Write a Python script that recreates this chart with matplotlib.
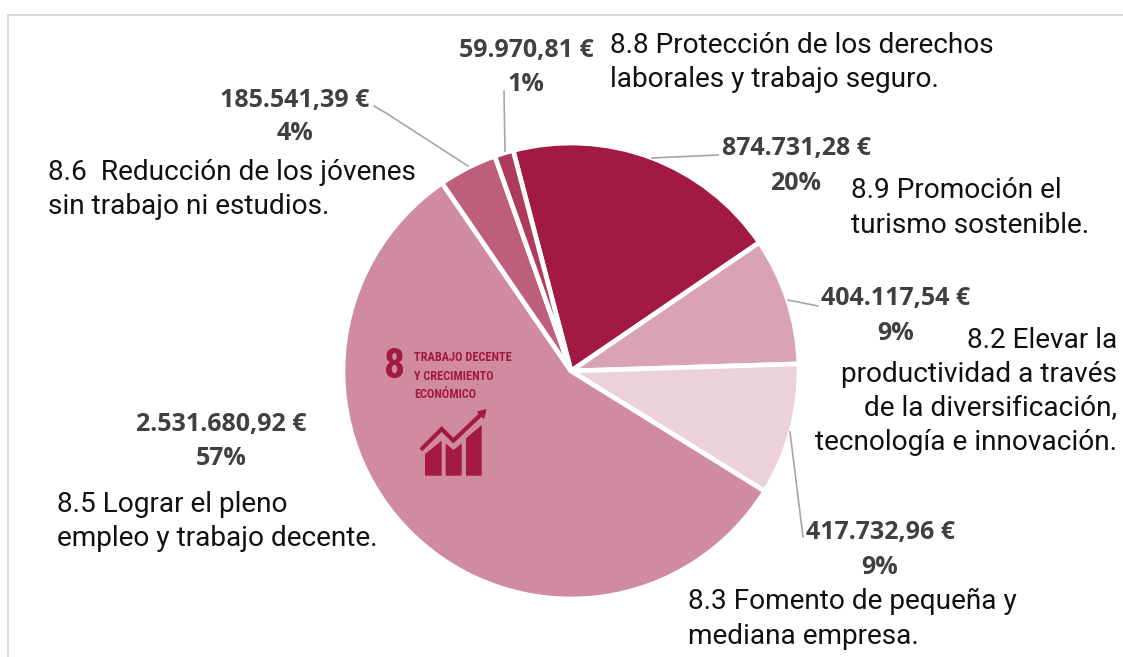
import matplotlib
matplotlib.use("Agg")
import matplotlib.pyplot as plt
from matplotlib.patches import Polygon
from matplotlib import font_manager as fm

W, H = 1123, 657
categories = ["8.9", "8.2", "8.3", "8.5", "8.6", "8.8"]
values = [874731.28, 404117.54, 417732.96, 2531680.92, 185541.39, 59970.81]
colors = ["#A21942", "#D9A3B3", "#ECD1D9", "#D08BA0", "#BD5E7B", "#AE3A5E"]
value_labels = ["874.731,28 €\n20%", "404.117,54 €\n9%", "417.732,96 €\n9%",
                "2.531.680,92 €\n57%", "185.541,39 €\n4%", "59.970,81 €\n1%"]
value_pos = [(796, 164), (896, 314), (880, 548), (221, 439.5), (295, 115), (526, 65.5)]
names = ["8.9 Promoción el\nturismo sostenible.",
         "8.2 Elevar la\nproductividad a través\nde la diversificación,\ntecnología e innovación.",
         "8.3 Fomento de pequeña y\nmediana empresa.",
         "8.5 Lograr el pleno\nempleo y trabajo decente.",
         "8.6  Reducción de los jóvenes\nsin trabajo ni estudios.",
         "8.8 Protección de los derechos\nlaborales y trabajo seguro."]
name_pos = [(851, 206, "left"), (1117, 389.5, "right"), (688, 617, "left"),
            (57, 519.5, "left"), (48, 187.5, "left"), (610, 60.5, "left")]
leaders = [[(652, 158), (718, 155)], [(788, 300), (818, 306)], [(790, 432), (803, 537)],
           [], [(468, 166), (386, 113), (374, 106)], [(505, 151), (504, 91)]]

installed = {f.name for f in fm.fontManager.ttflist}
narrow = next((n for n in ("Roboto Condensed", "Liberation Sans Narrow", "Open Sans Condensed")
               if n in installed), "Roboto")
small_size = 8.8 if narrow != "Roboto" else 7.5

fig = plt.figure(figsize=(W / 100, H / 100), dpi=100, facecolor="white")
cx, cy, r = 571, 371, 228
axp = fig.add_axes([(cx - r) / W, 1 - (cy + r) / H, 2 * r / W, 2 * r / H])
axp.pie(values, colors=colors, startangle=104.7, counterclock=False, radius=1,
        wedgeprops=dict(edgecolor="white", linewidth=3.4))
axp.set_xlim(-1, 1); axp.set_ylim(-1, 1); axp.axis("off")

ax = fig.add_axes([0, 0, 1, 1], facecolor="none")
ax.set_xlim(0, W); ax.set_ylim(H, 0); ax.axis("off")
ax.plot([8, 8, W], [H, 15, 15], color="#D9D9D9", lw=1.4, solid_joinstyle="miter")

for pts in leaders:
    if pts:
        ax.plot(*zip(*pts), color="#A6A6A6", lw=1.2)


def block(x, yc, text, pitch, drop, **kw):
    lines = text.split("\n")
    for i, line in enumerate(lines):
        ax.text(x, yc + (i - (len(lines) - 1) / 2) * pitch + drop, line, va="baseline", **kw)


for lab, (x, y) in zip(value_labels, value_pos):
    block(x, y, lab, 34, 8.5, ha="center", fontsize=18, fontweight="bold",
          family="Open Sans", color="#404040")
for lab, (x, y, ha) in zip(names, name_pos):
    block(x, y, lab, 34.3, 9.5, ha=ha, fontsize=20.2, family="Roboto", color="#111111")

# SDG 8 emblem
C = "#A21942"
ax.text(394.5, 366.5, "8", ha="center", va="center", fontsize=30, fontweight="bold", family=narrow, color=C)
for y, t in zip((357.5, 376.5, 395), ("TRABAJO DECENTE", "Y CRECIMIENTO", "ECONÓMICO")):
    ax.text(414, y, t, ha="left", va="center", fontsize=small_size, fontweight="bold", family=narrow, color=C)
Z = lambda p: [(360 + a / 3, 330 + b / 3) for a, b in p]
for p in ([(195, 372), (245, 332), (245, 437), (195, 437)],
          [(257, 340), (280, 360), (305, 340), (305, 437), (257, 437)],
          [(318, 325), (365, 285), (365, 437), (318, 437)],
          [(350, 245), (380, 237), (372, 268)]):
    ax.add_patch(Polygon(Z(p), closed=True, facecolor=C, edgecolor="none"))
ax.plot(*zip(*Z([(187, 355), (245, 297), (280, 332), (358, 258)])), color=C, lw=3, solid_joinstyle="miter")

fig.savefig("out.png", dpi=100)
